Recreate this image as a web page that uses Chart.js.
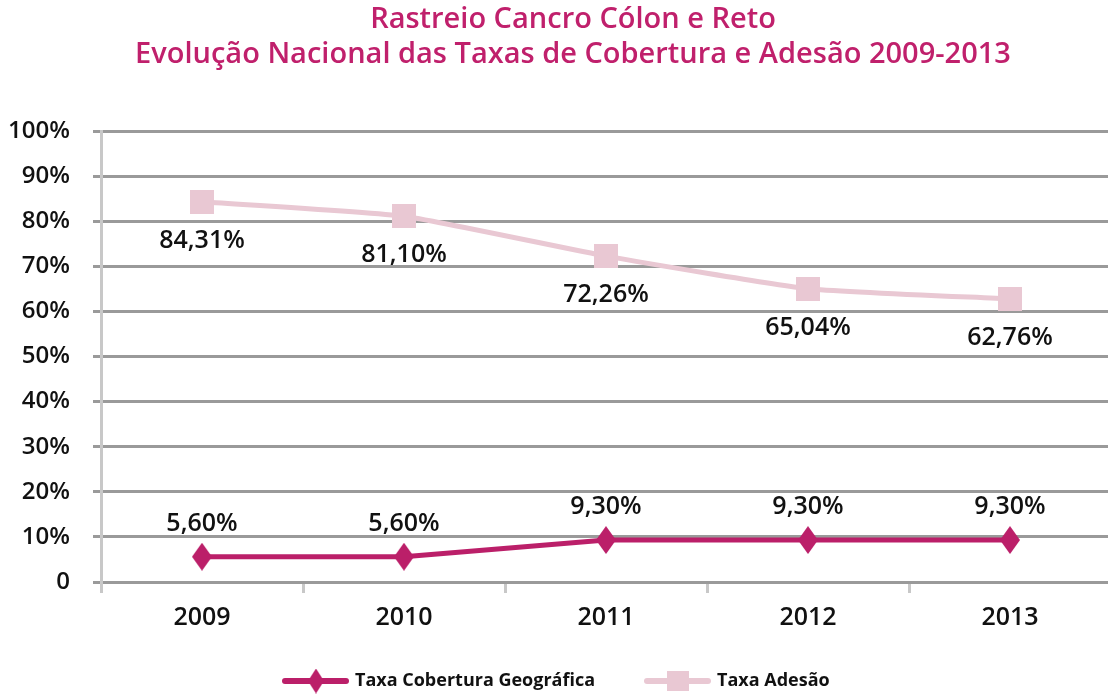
<!DOCTYPE html>
<html><head><meta charset="utf-8">
<script src="https://cdn.jsdelivr.net/npm/chart.js@4/dist/chart.umd.min.js"></script>
<style>
html,body{margin:0;padding:0;background:#fff;overflow:hidden;width:1108px;height:696px;}
#wrap{position:absolute;left:0;top:0;width:1112px;height:696px;}
</style></head>
<body>
<div id="wrap"><canvas id="c" width="1112" height="696"></canvas></div>
<script>
const titleLines = ['Rastreio Cancro Cólon e Reto', 'Evolução Nacional das Taxas de Cobertura e Adesão 2009-2013'];
const categories = ['2009', '2010', '2011', '2012', '2013'];
const coberturaLabel = 'Taxa Cobertura Geográfica';
const coberturaValues = [5.60, 5.60, 9.30, 9.30, 9.30];
const adesaoLabel = 'Taxa Adesão';
const adesaoValues = [84.31, 81.10, 72.26, 65.04, 62.76];
const yTicks = [0, 10, 20, 30, 40, 50, 60, 70, 80, 90, 100];

const MAGENTA = '#bb1f69';
const PINK = '#e9c8d3';
const FONT = "'Open Sans', 'Noto Sans', sans-serif";

function makeMarker(kind, color, w, h) {
  const c = document.createElement('canvas');
  c.width = w; c.height = h;
  const ctx = c.getContext('2d');
  ctx.fillStyle = color;
  if (kind === 'diamond') {
    ctx.beginPath();
    ctx.moveTo(w / 2, 0); ctx.lineTo(w, h / 2); ctx.lineTo(w / 2, h); ctx.lineTo(0, h / 2); ctx.closePath();
    ctx.fill();
  } else {
    ctx.fillRect(0, 0, w, h);
  }
  return c;
}
const diamond = makeMarker('diamond', MAGENTA, 20, 28);
const square = makeMarker('square', PINK, 24, 24);
const legendDiamond = makeMarker('diamond', MAGENTA, 16, 25);
const legendSquare = makeMarker('square', PINK, 22, 20);

const fmt = v => v.toFixed(2).replace('.', ',') + '%';

const overlay = {
  id: 'overlay',
  afterDatasetsDraw(chart) {
    const ctx = chart.ctx;
    ctx.save();
    ctx.fillStyle = '#111';
    ctx.font = '600 25px ' + FONT;
    ctx.textAlign = 'center';
    ctx.textBaseline = 'middle';
    chart.data.datasets.forEach((ds, di) => {
      const meta = chart.getDatasetMeta(di);
      meta.data.forEach((pt, i) => {
        ctx.fillText(fmt(ds.data[i]), pt.x, pt.y + ds.labelOffset);
      });
    });
    ctx.restore();
  },
  afterDraw(chart) {
    const ctx = chart.ctx;
    ctx.save();
    ctx.fillStyle = '#c0206c';
    ctx.font = '600 29px ' + FONT;
    ctx.textAlign = 'center';
    ctx.textBaseline = 'middle';
    ctx.fillText(titleLines[0], 573, 20);
    ctx.fillText(titleLines[1], 573, 55);
    ctx.font = '700 18px ' + FONT;
    ctx.textAlign = 'left';
    const ly = 681;
    const items = [
      {x: 285, img: legendDiamond, ds: chart.data.datasets[0], tx: 355},
      {x: 647, img: legendSquare, ds: chart.data.datasets[1], tx: 717}
    ];
    items.forEach(it => {
      ctx.strokeStyle = it.ds.borderColor;
      ctx.lineWidth = 6;
      ctx.lineCap = 'round';
      ctx.beginPath();
      ctx.moveTo(it.x, ly); ctx.lineTo(it.x + 61, ly);
      ctx.stroke();
      const img = it.img;
      ctx.drawImage(img, it.x + 31 - img.width / 2, ly - img.height / 2);
      ctx.fillStyle = '#111';
      ctx.fillText(it.ds.label, it.tx, ly);
    });
    ctx.restore();
  }
};

new Chart(document.getElementById('c'), {
  type: 'line',
  data: {
    labels: categories,
    datasets: [
      {
        label: coberturaLabel, data: coberturaValues,
        borderColor: MAGENTA, backgroundColor: MAGENTA, borderWidth: 5,
        pointStyle: diamond, pointRadius: 12, pointHoverRadius: 12,
        tension: 0, labelOffset: -33, order: 1
      },
      {
        label: adesaoLabel, data: adesaoValues,
        borderColor: PINK, backgroundColor: PINK, borderWidth: 5,
        pointStyle: square, pointRadius: 12, pointHoverRadius: 12,
        tension: 0.15, labelOffset: 39, order: 2
      }
    ]
  },
  options: {
    responsive: false,
    animation: false,
    events: [],
    layout: { autoPadding: false, padding: { top: 131, left: 0, right: 1, bottom: 0 } },
    plugins: { legend: { display: false }, title: { display: false }, tooltip: { enabled: false } },
    scales: {
      x: {
        offset: true,
        afterFit(axis) { axis.height = 114; axis.paddingLeft = 0; axis.paddingRight = 0; },
        grid: { offset: true, drawOnChartArea: false, color: '#c8c8c8', lineWidth: 3, tickLength: 11 },
        border: { color: '#9a9a9a', width: 3 },
        ticks: { color: '#111', font: { family: FONT, size: 25, weight: '600' }, padding: 10 }
      },
      y: {
        min: 0, max: 100,
        afterBuildTicks(axis) { axis.ticks = yTicks.map(v => ({ value: v })); },
        afterFit(axis) { axis.width = 101; },
        grid: { color: '#9a9a9a', lineWidth: 3, tickLength: 8 },
        border: { color: '#c8c8c8', width: 3 },
        ticks: {
          color: '#111', font: { family: FONT, size: 24, weight: '600' }, padding: 23,
          callback: v => v === 0 ? '0' : v + '%'
        }
      }
    }
  },
  plugins: [overlay]
});
</script>
</body></html>
